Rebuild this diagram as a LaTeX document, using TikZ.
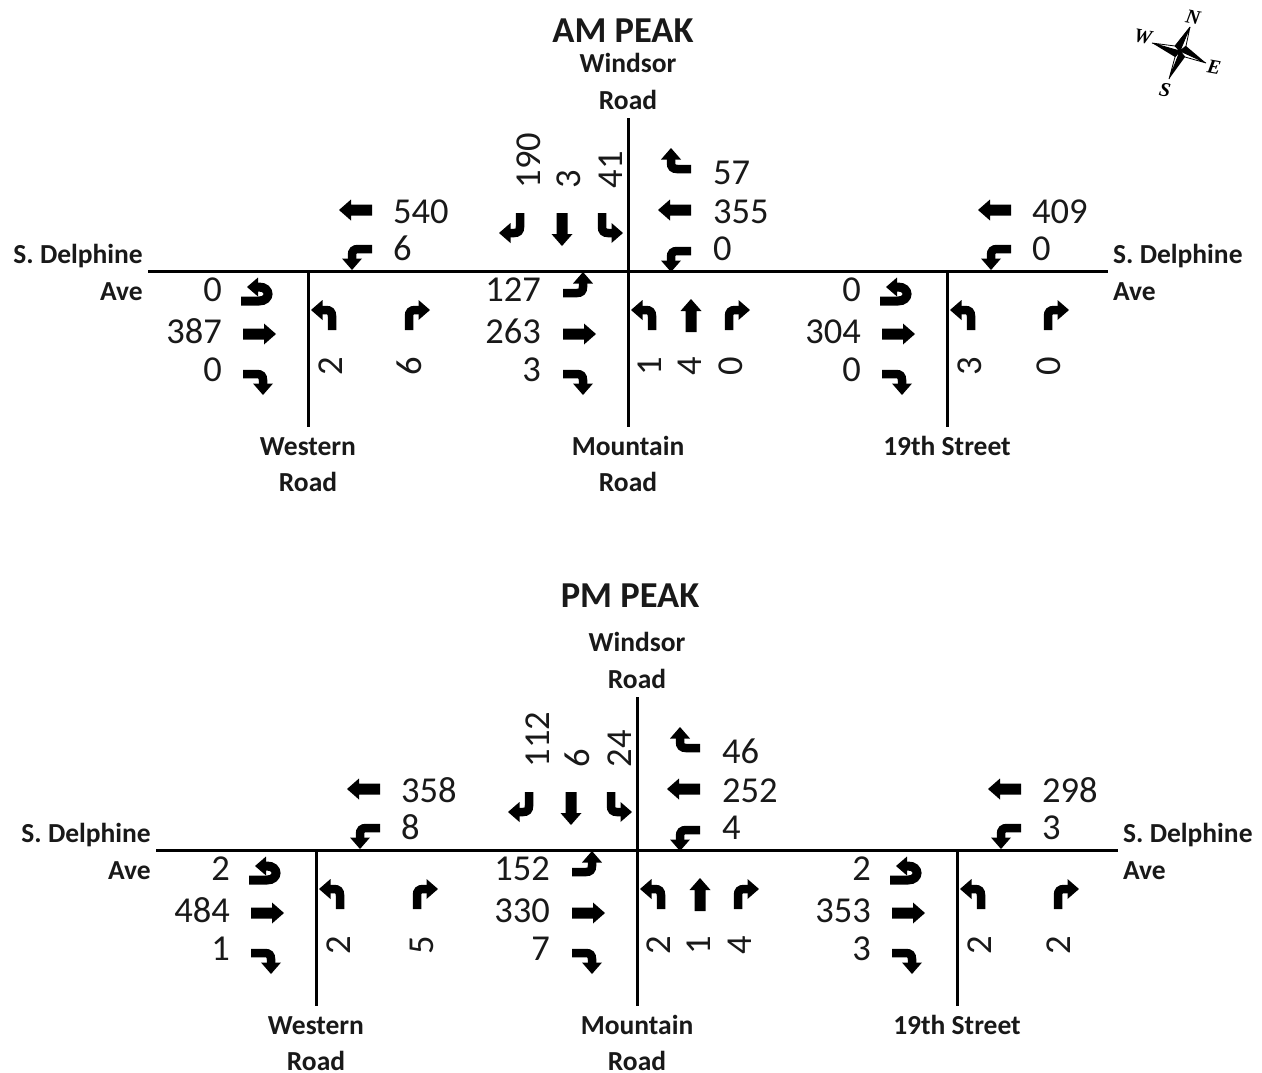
\documentclass[tikz,border=0pt]{standalone}
\usepackage{fontspec}
\setmainfont{Carlito}
\newfontfamily\compassfont{Liberation Serif}
\newcommand{\NumFont}{\fontsize{36.5}{36.5}\selectfont}
\newcommand{\LabFont}{\fontsize{27.5}{27.5}\selectfont\bfseries}
\newcommand{\HeadFont}{\fontsize{36.5}{36.5}\selectfont\bfseries}
\tikzset{
  x=1pt,y=-1pt,
  road/.style={line width=3pt,black},
  num/.style={inner sep=0pt,font=\NumFont,text=black!90,text height=23pt,text depth=0pt},
  numr/.style={num,anchor=east},
  numl/.style={num,anchor=west},
  numv/.style={num,rotate=90,anchor=west},
  numvc/.style={num,rotate=90,anchor=center},
  lab/.style={inner sep=0pt,font=\LabFont,text=black!90,text height=18pt,text depth=0pt},
  headlab/.style={inner sep=0pt,font=\HeadFont,text=black!90},
  cmp/.style={inner sep=0pt,font=\compassfont\fontsize{20}{20}\selectfont\bfseries\itshape},
  rtarrow/.pic={
    \draw[line width=8.5pt,black] (0,0) -- (0,-14) .. controls (0,-18) and (2,-20) .. (6,-20) -- (11,-20);
    \fill[black] (9.5,-30) -- (21,-20) -- (9.5,-10) -- cycle;
  },
  ltarrow/.pic={
    \draw[line width=8.5pt,black] (0,0) -- (0,-14) .. controls (0,-18) and (-2,-20) .. (-6,-20) -- (-11,-20);
    \fill[black] (-9.5,-30) -- (-21,-20) -- (-9.5,-10) -- cycle;
  },
  tharrow/.pic={
    \fill[black] (-5.5,0) -- (-5.5,-21) -- (-10.5,-21) -- (0,-33) -- (10.5,-21) -- (5.5,-21) -- (5.5,0) -- cycle;
  },
  utarrow/.pic={
    \draw[line width=9pt,black] (0,0) -- (0,-18) .. controls (0,-30) and (-14,-30) .. (-14,-18) -- (-14,-15);
    \fill[black] (-23.5,-17) -- (-14,-6) -- (-4.5,-17) -- cycle;
  },
}
\newcommand{\TeeA}[9]{%
  \begin{scope}[shift={(#2,#3)}]
    \pic[rotate=-90] at (-67,30) {utarrow};
    \pic[rotate=-90] at (-65,63) {tharrow};
    \pic[rotate=-90] at (-65,103) {rtarrow};
    \node[numr] (#1ebu) at (-86,19) {#4};
    \node[numr] (#1ebt) at (-86,61) {#5};
    \node[numr] (#1ebr) at (-86,99) {#6};
    \pic[rotate=90] at (64,-61) {tharrow};
    \pic[rotate=90] at (64,-22) {ltarrow};
    \node[numl] (#1wbt) at (85,-59) {#7};
    \node[numl] (#1wbl) at (85,-22) {#8};
    \pic at (24,59) {ltarrow};
    \node[numvc] (#1nbl) at (23,95) {#9};
  \end{scope}}
\newcommand{\NBRight}[5]{%
  \begin{scope}[shift={(#2,#3)}]
    \pic at (101,59) {rtarrow};
    \node[numvc] (#1nbr) at (#4,95) {#5};
  \end{scope}}
\newcommand{\Centre}[9]{%
  \begin{scope}[shift={(#2,#3)}]
    \pic[rotate=-90] at (-65,22) {ltarrow};
    \pic[rotate=-90] at (-65,63) {tharrow};
    \pic[rotate=-90] at (-65,103) {rtarrow};
    \node[numr] (#1ebl) at (-87,19) {#4};
    \node[numr] (#1ebt) at (-87,61) {#5};
    \node[numr] (#1ebr) at (-87,99) {#6};
    \pic[rotate=90] at (63,-102) {rtarrow};
    \pic[rotate=90] at (63,-61) {tharrow};
    \pic[rotate=90] at (63,-20) {ltarrow};
    \node[numl] (#1wbr) at (85,-98) {#7};
    \node[numl] (#1wbt) at (85,-59) {#8};
    \node[numl] (#1wbl) at (85,-22) {#9};
  \end{scope}}
\newcommand{\CentreB}[9]{%
  \begin{scope}[shift={(#2,#3)}]
    \pic[rotate=180] at (-108,-58) {rtarrow};
    \pic[rotate=180] at (-66,-58) {tharrow};
    \pic[rotate=180] at (-26,-58) {ltarrow};
    \node[numv] (#1sbr) at (-99,-82.5) {#4};
    \node[numv] (#1sbt) at (-59,-82.5) {#5};
    \node[numv] (#1sbl) at (-17,-82.5) {#6};
    \pic at (24,59) {ltarrow};
    \pic at (63,61) {tharrow};
    \pic at (101,59) {rtarrow};
    \node[numvc] (#1nbl) at (22,95) {#7};
    \node[numvc] (#1nbt) at (62,95) {#8};
    \node[numvc] (#1nbr) at (103,95) {#9};
  \end{scope}}
\newcommand{\Roads}[7]{%
  \coordinate (#1rw) at (#2,#4);
  \coordinate (#1re) at (#3,#4);
  \coordinate (#1wt) at (#5,#4);
  \coordinate (#1wb) at (#5,#4+156);
  \coordinate (#1ct) at (#6,#4-153);
  \coordinate (#1cb) at (#6,#4+156);
  \coordinate (#1nt) at (#7,#4);
  \coordinate (#1nb) at (#7,#4+156);
  \draw[road] (#1rw) -- (#1re);
  \draw[road] (#1wt) -- (#1wb);
  \draw[road] (#1ct) -- (#1cb);
  \draw[road] (#1nt) -- (#1nb);
  \node[lab,anchor=east] (#1sdw) at (#2-5,#4-17) {S. Delphine};
  \node[lab,anchor=east] (#1avw) at (#2-5,#4+20) {Ave};
  \node[lab,anchor=west] (#1sde) at (#3+5,#4-17) {S. Delphine};
  \node[lab,anchor=west] (#1ave) at (#3+5,#4+20) {Ave};
  \node[lab] (#1win) at (#6,#4-207.5) {Windsor};
  \node[lab] (#1wrd) at (#6,#4-170.5) {Road};
  \node[lab] (#1wes) at (#5,#4+175.5) {Western};
  \node[lab] (#1wer) at (#5,#4+211.5) {Road};
  \node[lab] (#1mou) at (#6,#4+175.5) {Mountain};
  \node[lab] (#1mor) at (#6,#4+211.5) {Road};
  \node[lab] (#1nin) at (#7,#4+175.5) {19th Street};}
\begin{document}
\begin{tikzpicture}
\useasboundingbox (0,0) rectangle (1262,1072);
\fill[white] (0,0) rectangle (1262,1072);
\node[headlab] (amh) at (623,31) {AM PEAK};
\node[headlab] (pmh) at (630,596) {PM PEAK};
\Roads{a}{148}{1108}{271}{308}{628}{947}
\TeeA{aw}{308}{271}{0}{387}{0}{540}{6}{2}
\NBRight{aw}{308}{271}{102}{6}
\Centre{am}{628}{271}{127}{263}{3}{57}{355}{0}
\CentreB{am}{628}{271}{190}{3}{41}{1}{4}{0}
\TeeA{an}{947}{271}{0}{304}{0}{409}{0}{3}
\NBRight{an}{947}{271}{102}{0}
\Roads{p}{156}{1118}{850}{316}{637}{957}
\TeeA{pw}{316}{850}{2}{484}{1}{358}{8}{2}
\NBRight{pw}{316}{850}{106}{5}
\Centre{pm}{637}{850}{152}{330}{7}{46}{252}{4}
\CentreB{pm}{637}{850}{112}{6}{24}{2}{1}{4}
\TeeA{pn}{957}{850}{2}{353}{3}{298}{3}{2}
\NBRight{pn}{957}{850}{102}{2}
% compass
\begin{scope}[line width=0.8pt,line join=miter]
  \coordinate (cc) at (1180,51);
  \coordinate (cn) at (1190,27);
  \coordinate (ce) at (1206,63);
  \coordinate (cs) at (1169,79);
  \coordinate (cw) at (1152,43);
  \coordinate (cne) at (1186,46);
  \coordinate (cse) at (1185,57);
  \coordinate (csw) at (1175,57);
  \coordinate (cnw) at (1175,46);
  \filldraw[fill=white,draw=black] (cn) -- (cne) -- (cc) -- cycle;
  \fill[black] (cn) -- (cnw) -- (cc) -- cycle;
  \draw (cn) -- (cnw);
  \filldraw[fill=white,draw=black] (ce) -- (cse) -- (cc) -- cycle;
  \fill[black] (ce) -- (cne) -- (cc) -- cycle;
  \filldraw[fill=white,draw=black] (cs) -- (csw) -- (cc) -- cycle;
  \fill[black] (cs) -- (cse) -- (cc) -- cycle;
  \filldraw[fill=white,draw=black] (cw) -- (cnw) -- (cc) -- cycle;
  \fill[black] (cw) -- (csw) -- (cc) -- cycle;
\end{scope}
\node[cmp,rotate=-10] (ltn) at (1193,17) {N};
\node[cmp,rotate=-10] (lte) at (1214,67) {E};
\node[cmp,rotate=-10] (lts) at (1165,90) {S};
\node[cmp,rotate=-10] (ltw) at (1143,37) {W};
\end{tikzpicture}
\end{document}
